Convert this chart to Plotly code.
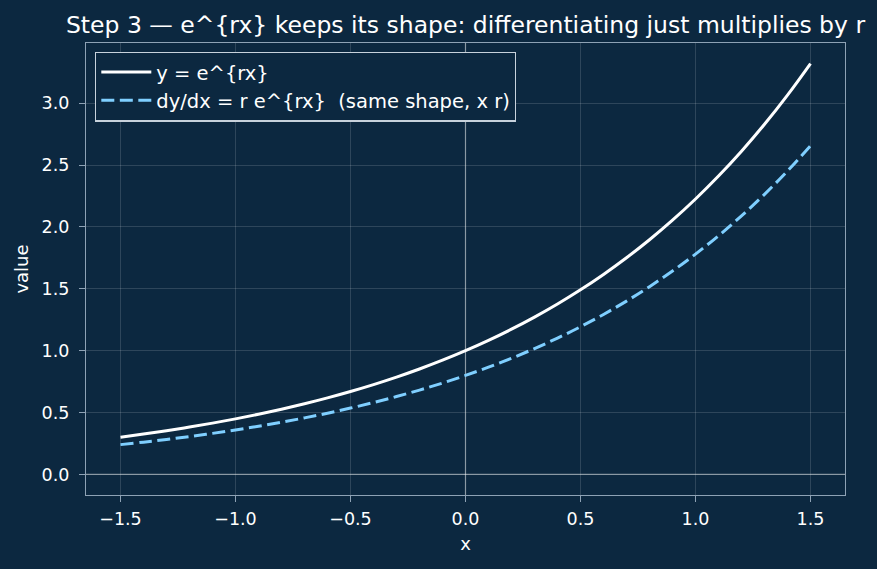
import plotly.graph_objects as go

x_vals = [-1.5, -1.4, -1.3, -1.2, -1.1, -1.0, -0.9, -0.8, -0.7, -0.6, -0.5, -0.4, -0.3, -0.2, -0.1,
          0.0, 0.1, 0.2, 0.3, 0.4, 0.5, 0.6, 0.7, 0.8, 0.9, 1.0, 1.1, 1.2, 1.3, 1.4, 1.5]
y_vals = [0.3012, 0.3263, 0.3535, 0.3829, 0.4148, 0.4493, 0.4868, 0.5273, 0.5712, 0.6188, 0.6703,
          0.7261, 0.7866, 0.8521, 0.9231, 1.0000, 1.0833, 1.1735, 1.2712, 1.3771, 1.4918, 1.6161,
          1.7507, 1.8965, 2.0544, 2.2255, 2.4109, 2.6117, 2.8292, 3.0649, 3.3201]
dy_vals = [0.2410, 0.2610, 0.2828, 0.3063, 0.3318, 0.3595, 0.3894, 0.4218, 0.4570, 0.4950, 0.5363,
           0.5809, 0.6293, 0.6817, 0.7385, 0.8000, 0.8666, 0.9388, 1.0170, 1.1017, 1.1934, 1.2929,
           1.4006, 1.5172, 1.6435, 1.7804, 1.9287, 2.0894, 2.2634, 2.4519, 2.6561]
x_ticks = [-1.5, -1.0, -0.5, 0.0, 0.5, 1.0, 1.5]
x_tick_text = ["\u22121.5", "\u22121.0", "\u22120.5", "0.0", "0.5", "1.0", "1.5"]
y_ticks = [0.0, 0.5, 1.0, 1.5, 2.0, 2.5, 3.0]
y_tick_text = ["0.0", "0.5", "1.0", "1.5", "2.0", "2.5", "3.0"]

BG = "#0c2840"
SPINE = "#8ea2b5"
FONT = "DejaVu Sans"

fig = go.Figure()
fig.add_trace(go.Scatter(x=x_vals, y=y_vals, mode="lines", name="y = e^{rx}",
                         legendgroup="a",
                         line=dict(color="#ffffff", width=3, shape="spline")))
fig.add_trace(go.Scatter(x=x_vals, y=dy_vals, mode="lines",
                         name="dy/dx = r e^{rx}  (same shape, x r)",
                         legendgroup="b",
                         line=dict(color="#7fcfff", width=3, dash="13px,5.5px", shape="spline")))

fig.add_shape(type="line", xref="x", yref="paper", x0=0, x1=0, y0=0, y1=1,
              line=dict(color="rgba(255,255,255,0.45)", width=1.2), layer="below")
fig.add_shape(type="line", xref="paper", yref="y", x0=0, x1=1, y0=0, y1=0,
              line=dict(color="rgba(255,255,255,0.45)", width=1.2), layer="below")

axis_common = dict(showline=True, linecolor=SPINE, linewidth=1.2, mirror=True,
                   ticks="outside", ticklen=6, tickwidth=1.2, tickcolor=SPINE,
                   showgrid=True, gridcolor="rgba(255,255,255,0.14)", gridwidth=0.8,
                   zeroline=False, tickfont=dict(family=FONT, size=17.5, color="#ffffff"))

fig.update_layout(
    width=877, height=569,
    paper_bgcolor=BG, plot_bgcolor=BG,
    margin=dict(l=86, r=32, t=43, b=74),
    font=dict(family=FONT, color="#ffffff"),
    title=dict(text="Step 3 \u2014 e^{rx} keeps its shape: differentiating just multiplies by r",
               x=(86 + 759 / 2) / 877, xanchor="center", y=1 - 25 / 569, yanchor="middle",
               font=dict(family=FONT, size=23.5, color="#ffffff")),
    xaxis=dict(range=[-1.65, 1.65], tickvals=x_ticks, ticktext=x_tick_text,
               ticklabelstandoff=2,
               title=dict(text="x", font=dict(family=FONT, size=18, color="#ffffff"), standoff=9),
               **axis_common),
    yaxis=dict(range=[-0.166, 3.486], tickvals=y_ticks, ticktext=y_tick_text,
               ticklabelstandoff=6,
               title=dict(text="value", font=dict(family=FONT, size=18, color="#ffffff"), standoff=8),
               **axis_common),
    legend=dict(x=0.012, y=0.981, xanchor="left", yanchor="top",
                bgcolor=BG, bordercolor="#c8d2dc", borderwidth=1.2,
                font=dict(family=FONT, size=19.5, color="#ffffff"),
                itemwidth=50, traceorder="grouped", tracegroupgap=0),
    showlegend=True,
)

fig.write_html("out.html")
